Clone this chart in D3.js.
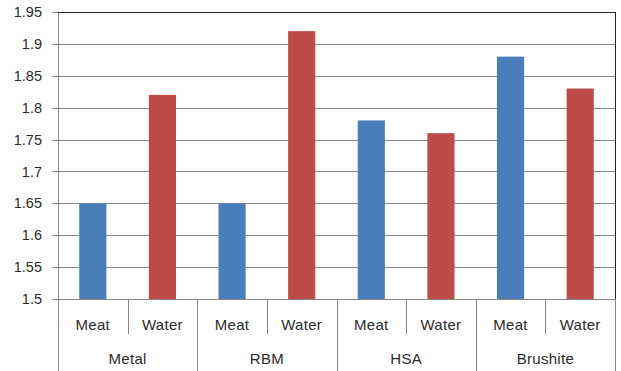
<!DOCTYPE html>
<html>
<head>
<meta charset="utf-8">
<script src="https://cdn.jsdelivr.net/npm/d3@7"></script>
<style>
  html, body { margin: 0; padding: 0; background: #fff; }
  svg { display: block; font-family: "Liberation Sans", Arial, sans-serif; }
</style>
</head>
<body>
<svg id="chart" width="621" height="371"></svg>
<script>
// Material groups and the two media measured within each
const groups = ["Metal", "RBM", "HSA", "Brushite"];
const media = ["Meat", "Water"];
const meatValues = [1.65, 1.65, 1.78, 1.88];
const waterValues = [1.82, 1.92, 1.76, 1.83];
const yTicks = [1.5, 1.55, 1.6, 1.65, 1.7, 1.75, 1.8, 1.85, 1.9, 1.95];
const colors = { Meat: "#4A7EBB", Water: "#BE4B48" };

// Flatten into one bar per (group, medium)
const bars = [];
groups.forEach((g, i) => {
  bars.push({ group: g, medium: "Meat", key: g + "|Meat", value: meatValues[i] });
  bars.push({ group: g, medium: "Water", key: g + "|Water", value: waterValues[i] });
});

const svg = d3.select("#chart");
const plotLeft = 58, plotRight = 615, plotTop = 12, plotBottom = 299;
const textColor = "#2b2b2b";

const x = d3.scaleBand().domain(bars.map(d => d.key)).range([plotLeft, plotRight]).padding(0);
const xg = d3.scaleBand().domain(groups).range([plotLeft, plotRight]).padding(0);
const y = d3.scaleLinear().domain([1.5, 1.95]).range([plotBottom, plotTop]);

// Horizontal gridlines with small tick stubs left of the axis
svg.append("g")
  .selectAll("line")
  .data(yTicks)
  .join("line")
  .attr("x1", plotLeft - 6).attr("x2", plotRight)
  .attr("y1", d => Math.round(y(d)) + 0.5).attr("y2", d => Math.round(y(d)) + 0.5)
  .attr("stroke", "#878787").attr("stroke-width", 1);

// Y tick labels
svg.append("g")
  .selectAll("text")
  .data(yTicks)
  .join("text")
  .attr("x", plotLeft - 16)
  .attr("y", d => y(d))
  .attr("dy", "0.35em")
  .attr("text-anchor", "end")
  .attr("font-size", 14.5)
  .attr("fill", textColor)
  .text(d => String(+d.toFixed(2)));

// Bars
const barW = x.bandwidth() * 0.39;
svg.append("g")
  .selectAll("rect")
  .data(bars)
  .join("rect")
  .attr("x", d => x(d.key) + (x.bandwidth() - barW) / 2)
  .attr("y", d => y(d.value))
  .attr("width", barW)
  .attr("height", d => y(1.5) - y(d.value))
  .attr("fill", d => colors[d.medium]);

// Left axis line (full height including category rows)
svg.append("line")
  .attr("x1", plotLeft + 0.5).attr("x2", plotLeft + 0.5)
  .attr("y1", plotTop).attr("y2", 371)
  .attr("stroke", "#878787");

// Plot area top and right border
svg.append("line")
  .attr("x1", plotLeft).attr("x2", plotRight + 0.5)
  .attr("y1", plotTop + 0.5).attr("y2", plotTop + 0.5)
  .attr("stroke", "#222");
svg.append("line")
  .attr("x1", plotRight + 0.5).attr("x2", plotRight + 0.5)
  .attr("y1", plotTop).attr("y2", plotBottom)
  .attr("stroke", "#222");
svg.append("line")
  .attr("x1", plotRight + 0.5).attr("x2", plotRight + 0.5)
  .attr("y1", plotBottom).attr("y2", 371)
  .attr("stroke", "#878787");

// Baseline
svg.append("line")
  .attr("x1", plotLeft).attr("x2", plotRight)
  .attr("y1", plotBottom + 0.5).attr("y2", plotBottom + 0.5)
  .attr("stroke", "#878787");

// Short dividers between media within each group
svg.append("g")
  .selectAll("line")
  .data(groups)
  .join("line")
  .attr("x1", g => Math.round(x(g + "|Water")) + 0.5)
  .attr("x2", g => Math.round(x(g + "|Water")) + 0.5)
  .attr("y1", plotBottom).attr("y2", 334)
  .attr("stroke", "#878787");

// Long dividers between groups
svg.append("g")
  .selectAll("line")
  .data(groups.slice(1))
  .join("line")
  .attr("x1", g => Math.round(xg(g)) + 0.5)
  .attr("x2", g => Math.round(xg(g)) + 0.5)
  .attr("y1", plotBottom).attr("y2", 371)
  .attr("stroke", "#878787");

// Medium labels
svg.append("g")
  .selectAll("text")
  .data(bars)
  .join("text")
  .attr("x", d => x(d.key) + x.bandwidth() / 2)
  .attr("y", 325)
  .attr("dy", "0.35em")
  .attr("text-anchor", "middle")
  .attr("font-size", 15)
  .attr("letter-spacing", 0.3)
  .attr("fill", textColor)
  .text(d => d.medium);

// Group labels
svg.append("g")
  .selectAll("text")
  .data(groups)
  .join("text")
  .attr("x", g => xg(g) + xg.bandwidth() / 2)
  .attr("y", 359)
  .attr("dy", "0.35em")
  .attr("text-anchor", "middle")
  .attr("font-size", 15)
  .attr("letter-spacing", 0.3)
  .attr("fill", textColor)
  .text(g => g);
</script>
</body>
</html>
